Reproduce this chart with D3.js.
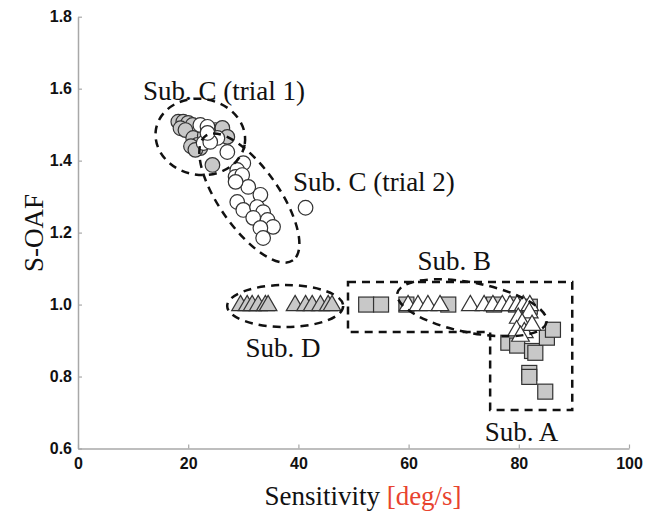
<!DOCTYPE html>
<html><head><meta charset="utf-8">
<script src="https://cdn.jsdelivr.net/npm/d3@7"></script>
<style>
html,body{margin:0;padding:0;background:#fff;}
</style></head>
<body>
<svg id="chart" width="652" height="517"></svg>
<script>
// ---- Data ----
const xTicks = [0, 20, 40, 60, 80, 100];
const yTicks = [0.6, 0.8, 1.0, 1.2, 1.4, 1.6, 1.8];

// Sub. C (trial 1): gray circles
const c1X = [18.2,19.1,20.0,20.8,18.6,19.5,20.9,21.7,22.2,20.5,21.3,23.0,24.9,26.2,27.1,24.4];
const c1Y = [1.508,1.508,1.505,1.499,1.490,1.485,1.463,1.444,1.435,1.44,1.43,1.47,1.485,1.491,1.466,1.388];
// Sub. C (trial 2): white circles
const c2X = [22.2,23.5,25.3,22.8,24.0,27.1,23.5,30.0,28.9,28.6,29.8,30.9,28.6,33.1,28.9,30.0,32.5,33.6,31.8,34.4,35.4,33.1,33.6,41.3];
const c2Y = [1.499,1.494,1.463,1.449,1.452,1.424,1.477,1.393,1.374,1.355,1.360,1.327,1.341,1.305,1.285,1.263,1.271,1.257,1.241,1.235,1.216,1.213,1.185,1.269];
// Sub. D: gray triangles
const dX = [29.5,30.7,31.6,32.7,34.0,34.5,39.4,41.3,42.5,44.0,45.4,46.1];
const dY = [1.0,1.0,1.0,1.0,1.0,1.0,1.0,1.0,1.0,1.0,1.0,1.0];
// Sub. A: gray squares
const aX = [52.3,55.0,59.6,67.2,75.5,79.5,82.0,78.1,79.7,82.4,83.0,85.1,86.2,81.9,81.9,84.8];
const aY = [1.0,1.0,1.0,1.0,1.0,1.0,0.994,0.894,0.886,0.871,0.866,0.908,0.930,0.810,0.799,0.758];
// Sub. B: white triangles
const bX = [59.9,61.7,63.5,65.7,71.2,73.7,75.3,77.0,78.4,79.7,80.8,82.0,79.9,81.9,80.6,79.6,81.0,82.4,80.3];
const bY = [1.0,1.0,1.0,1.0,1.0,1.0,1.0,1.0,1.0,1.0,1.0,1.0,0.965,0.98,0.95,0.93,0.925,0.945,0.915];

// Annotation labels
const labelText = ["Sub. C (trial 1)", "Sub. C (trial 2)", "Sub. D", "Sub. B", "Sub. A"];
const labelX = [11.8, 39.0, 30.4, 61.6, 73.8];
const labelY = [1.568, 1.316, 0.854, 1.096, 0.621];

// Dashed annotation ellipses (centre in data units)
const ellCx = [22.2, 31.1, 37.6, 71.5];
const ellCy = [1.466, 1.296, 0.996, 0.991];
// Dashed polygon around Sub. A (data units)
const boxX = [49.0, 89.7, 89.7, 74.8, 74.8, 49.0];
const boxY = [1.063, 1.063, 0.707, 0.707, 0.924, 0.924];

// ---- Layout ----
const svg = d3.select("#chart");
const x = d3.scaleLinear().domain([0,100]).range([78, 629]);
const y = d3.scaleLinear().domain([0.6,1.8]).range([448.5, 16.7]);
const ellGeom = [ {rx:45, ry:38, rot:10}, {rx:76, ry:30, rot:55}, {rx:58, ry:21, rot:0}, {rx:76, ry:25, rot:11} ];

const axisColor = "#a8a8a8";
const gx = svg.append("g").attr("transform", `translate(0,${y(0.6)})`)
  .call(d3.axisBottom(x).tickValues(xTicks).tickSize(-4).tickSizeOuter(0).tickPadding(9).tickFormat(d3.format("d")));
const gy = svg.append("g").attr("transform", `translate(${x(0)},0)`)
  .call(d3.axisLeft(y).tickValues(yTicks).tickSize(-4).tickSizeOuter(0).tickPadding(6).tickFormat(d3.format(".1f")));
[gx, gy].forEach(g => {
  g.select(".domain").attr("stroke", axisColor).attr("stroke-width", 1.5);
  g.selectAll(".tick line").attr("stroke", axisColor).attr("stroke-width", 1.2);
  g.selectAll("text").attr("fill", "#111").attr("font-family", "'Liberation Sans', Arial, sans-serif")
    .attr("font-size", 16).attr("font-weight", "bold");
});

// Axis titles
svg.append("text").attr("x", 37).attr("y", 233)
  .attr("transform", "rotate(-90,37,233)").attr("text-anchor", "middle").attr("dominant-baseline", "middle")
  .attr("font-family", "'Liberation Serif', 'Times New Roman', serif").attr("font-size", 27).attr("fill", "#111")
  .text("S-OAF");
const xt = svg.append("text").attr("x", 363).attr("y", 505).attr("text-anchor", "middle")
  .attr("font-family", "'Liberation Serif', 'Times New Roman', serif").attr("font-size", 27).attr("fill", "#111");
xt.append("tspan").text("Sensitivity ");
xt.append("tspan").attr("fill", "#e8432e").text("[deg/s]");

const stroke = "#333";
const gray = "#c8c8c8";
const zip = (xs, ys) => xs.map((v,i) => ({x:v, y:ys[i]}));

// Sub A squares
const sq = 15;
svg.append("g").selectAll("rect").data(zip(aX, aY)).join("rect")
  .attr("x", d => x(d.x) - sq/2).attr("y", d => y(d.y) - sq/2).attr("width", sq).attr("height", sq)
  .attr("fill", gray).attr("stroke", stroke).attr("stroke-width", 1.2);

// triangles
const tri = d3.symbol().type(d3.symbolTriangle).size(135);
svg.append("g").selectAll("path").data(zip(dX, dY)).join("path")
  .attr("d", tri).attr("transform", d => `translate(${x(d.x)},${y(d.y)+1})`)
  .attr("fill", gray).attr("stroke", stroke).attr("stroke-width", 1.2);
svg.append("g").selectAll("path").data(zip(bX, bY)).join("path")
  .attr("d", tri).attr("transform", d => `translate(${x(d.x)},${y(d.y)+1})`)
  .attr("fill", "#fff").attr("stroke", stroke).attr("stroke-width", 1.2);

// circles
svg.append("g").selectAll("circle").data(zip(c1X, c1Y)).join("circle")
  .attr("cx", d => x(d.x)).attr("cy", d => y(d.y)).attr("r", 7.3)
  .attr("fill", gray).attr("stroke", stroke).attr("stroke-width", 1.2);
svg.append("g").selectAll("circle").data(zip(c2X, c2Y)).join("circle")
  .attr("cx", d => x(d.x)).attr("cy", d => y(d.y)).attr("r", 7.3)
  .attr("fill", "#fff").attr("stroke", stroke).attr("stroke-width", 1.2);

// dashed annotations
const dash = "8,6";
svg.append("g").selectAll("ellipse").data(ellCx.map((cx,i) => ({cx, cy: ellCy[i], ...ellGeom[i]}))).join("ellipse")
  .attr("cx", 0).attr("cy", 0).attr("rx", d => d.rx).attr("ry", d => d.ry)
  .attr("transform", d => `translate(${x(d.cx)},${y(d.cy)}) rotate(${d.rot})`)
  .attr("fill", "none").attr("stroke", "#111").attr("stroke-width", 2.5).attr("stroke-dasharray", dash);
svg.append("polygon").attr("points", boxX.map((v,i) => `${x(v)},${y(boxY[i])}`).join(" "))
  .attr("fill", "none").attr("stroke", "#111").attr("stroke-width", 2.5).attr("stroke-dasharray", dash);

// labels
svg.append("g").selectAll("text").data(labelText).join("text")
  .attr("x", (d,i) => x(labelX[i])).attr("y", (d,i) => y(labelY[i]))
  .attr("font-family", "'Liberation Serif', 'Times New Roman', serif").attr("font-size", 27).attr("fill", "#111")
  .text(d => d);
</script>
</body></html>
